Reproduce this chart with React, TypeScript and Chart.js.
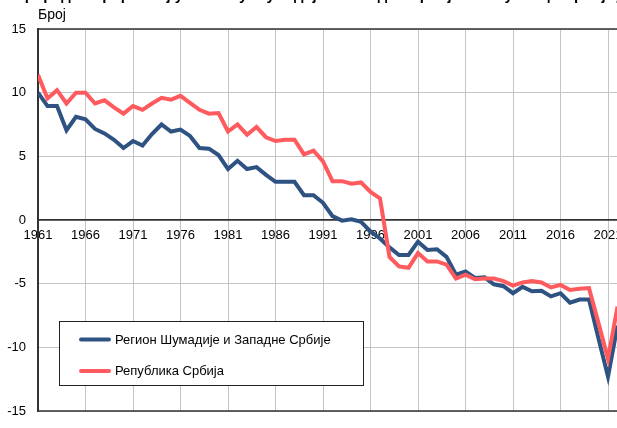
import React, { useEffect, useRef } from 'react';
import { Chart, registerables } from 'chart.js';

Chart.register(...registerables);

const years = [
  1961, 1962, 1963, 1964, 1965, 1966, 1967, 1968, 1969, 1970,
  1971, 1972, 1973, 1974, 1975, 1976, 1977, 1978, 1979, 1980,
  1981, 1982, 1983, 1984, 1985, 1986, 1987, 1988, 1989, 1990,
  1991, 1992, 1993, 1994, 1995, 1996, 1997, 1998, 1999, 2000,
  2001, 2002, 2003, 2004, 2005, 2006, 2007, 2008, 2009, 2010,
  2011, 2012, 2013, 2014, 2015, 2016, 2017, 2018, 2019, 2020,
  2021, 2022,
];

const regionValues = [
  10.0, 8.95, 8.95, 7.05, 8.1, 7.9, 7.15, 6.8, 6.3, 5.65,
  6.2, 5.85, 6.75, 7.5, 6.95, 7.1, 6.6, 5.65, 5.6, 5.1,
  4.0, 4.65, 4.0, 4.15, 3.55, 3.0, 3.0, 3.0, 1.95, 1.95,
  1.35, 0.3, -0.05, 0.05, -0.15, -0.9, -1.45, -2.15, -2.75, -2.75,
  -1.7, -2.35, -2.3, -2.9, -4.3, -4.05, -4.55, -4.5, -5.05, -5.2,
  -5.75, -5.25, -5.6, -5.55, -6.0, -5.75, -6.5, -6.25, -6.25, -9.3,
  -12.3, -8.3,
];

const serbiaValues = [
  11.4, 9.55, 10.2, 9.15, 10.0, 10.0, 9.15, 9.4, 8.85, 8.35,
  8.95, 8.65, 9.15, 9.6, 9.45, 9.75, 9.2, 8.65, 8.35, 8.4,
  6.95, 7.5, 6.7, 7.3, 6.5, 6.2, 6.3, 6.3, 5.15, 5.45,
  4.6, 3.05, 3.05, 2.85, 2.95, 2.2, 1.7, -2.9, -3.65, -3.75,
  -2.6, -3.25, -3.25, -3.5, -4.6, -4.3, -4.65, -4.6, -4.6, -4.8,
  -5.15, -4.9, -4.8, -4.9, -5.3, -5.1, -5.5, -5.4, -5.35, -8.1,
  -10.9, -6.8,
];

const xTickYears = [1961, 1966, 1971, 1976, 1981, 1986, 1991, 1996, 2001, 2006, 2011, 2016, 2021];
const yTickValues = [15, 10, 5, 0, -5, -10, -15];
const seriesNames = ['Регион Шумадије и Западне Србије', 'Република Србија'];
const chartTitle = 'Природни прираштај у Региону Шумадије и Западне Србије и Републици Србији, 1961–2022.';
const yAxisTitle = 'Број';

const BLUE = '#2E5282';
const RED = '#FF5A5E';
const FONT = '"Liberation Sans", Arial, sans-serif';

const decorPlugin = {
  id: 'decor',
  beforeDatasetsDraw(chart: any) {
    const { ctx, chartArea: a } = chart;
    ctx.save();
    ctx.strokeStyle = '#333333';
    ctx.lineWidth = 1.5;
    ctx.strokeRect(a.left, a.top, a.right - a.left, a.bottom - a.top);
    ctx.restore();
  },
  afterDraw(chart: any) {
    const { ctx } = chart;
    ctx.save();
    // title (mostly clipped at the top)
    ctx.fillStyle = '#000';
    ctx.font = `bold 15px ${FONT}`;
    ctx.textBaseline = 'alphabetic';
    ctx.textAlign = 'left';
    ctx.fillText(chartTitle, 14, 0);
    // y axis title
    ctx.font = `14px ${FONT}`;
    ctx.fillText(yAxisTitle, 38, 19);

    // legend
    const bx = 59.5, by = 321.5, bw = 304, bh = 64;
    ctx.fillStyle = '#ffffff';
    ctx.fillRect(bx, by, bw, bh);
    ctx.strokeStyle = '#222';
    ctx.lineWidth = 1;
    ctx.strokeRect(bx, by, bw, bh);
    const colors = [BLUE, RED];
    const rows = [339.5, 371];
    ctx.font = `13px ${FONT}`;
    ctx.textBaseline = 'middle';
    seriesNames.forEach((name, i) => {
      ctx.strokeStyle = colors[i];
      ctx.lineWidth = 4;
      ctx.lineCap = 'round';
      ctx.beginPath();
      ctx.moveTo(81, rows[i]);
      ctx.lineTo(109, rows[i]);
      ctx.stroke();
      ctx.fillStyle = '#000';
      ctx.fillText(name, 115, rows[i] + 0.5);
    });
    ctx.restore();
  },
};

export default function App() {
  const canvasRef = useRef<HTMLCanvasElement | null>(null);

  useEffect(() => {
    const canvas = canvasRef.current;
    if (!canvas) return;
    const chart = new Chart(canvas, {
      type: 'line',
      data: {
        datasets: [
          {
            label: seriesNames[0],
            data: years.map((y, i) => ({ x: y, y: regionValues[i] })),
            borderColor: BLUE,
            backgroundColor: BLUE,
            borderWidth: 4,
            pointRadius: 0,
            tension: 0,
            order: 1,
          },
          {
            label: seriesNames[1],
            data: years.map((y, i) => ({ x: y, y: serbiaValues[i] })),
            borderColor: RED,
            backgroundColor: RED,
            borderWidth: 4,
            pointRadius: 0,
            tension: 0,
            order: 0,
          },
        ],
      },
      options: {
        responsive: false,
        animation: false,
        devicePixelRatio: 1,
        layout: { padding: { left: 0, top: 29, right: 23, bottom: 17 } },
        plugins: {
          legend: { display: false },
          tooltip: { enabled: false },
          title: { display: false },
        },
        scales: {
          x: {
            type: 'linear',
            position: { y: 0 } as any,
            min: 1961,
            max: 2023,
            afterBuildTicks: (s: any) => {
              s.ticks = xTickYears.map((v) => ({ value: v }));
            },
            afterFit: (s: any) => {
              s.height = 0;
            },
            grid: { color: '#c4c4c4', lineWidth: 1, drawTicks: false },
            border: { display: true, color: '#333333', width: 1.5 },
            ticks: {
              padding: 8,
              color: '#000',
              maxRotation: 0,
              autoSkip: false,
              font: { family: FONT, size: 13 },
              callback: (v: any) => String(v),
            },
          },
          y: {
            min: -15,
            max: 15,
            afterBuildTicks: (s: any) => {
              s.ticks = yTickValues.map((v) => ({ value: v }));
            },
            afterFit: (s: any) => {
              s.width = 38;
              s.paddingTop = 0;
              s.paddingBottom = 0;
            },
            grid: {
              color: (c: any) => (c.tick && c.tick.value === 0 ? '#333333' : '#c4c4c4'),
              lineWidth: (c: any) => (c.tick && c.tick.value === 0 ? 1.5 : 1),
              drawTicks: false,
            },
            border: { display: true, color: '#333333', width: 2 },
            ticks: {
              padding: 12,
              color: '#000',
              font: { family: FONT, size: 13 },
              callback: (v: any) => String(v),
            },
          },
        },
      },
      plugins: [decorPlugin],
    });
    return () => chart.destroy();
  }, []);

  return (
    <div style={{ position: 'absolute', left: 0, top: 0, width: 617, height: 428, overflow: 'hidden', background: '#fff' }}>
      <canvas ref={canvasRef} width={650} height={428} style={{ display: 'block', width: 650, height: 428 }} />
    </div>
  );
}
